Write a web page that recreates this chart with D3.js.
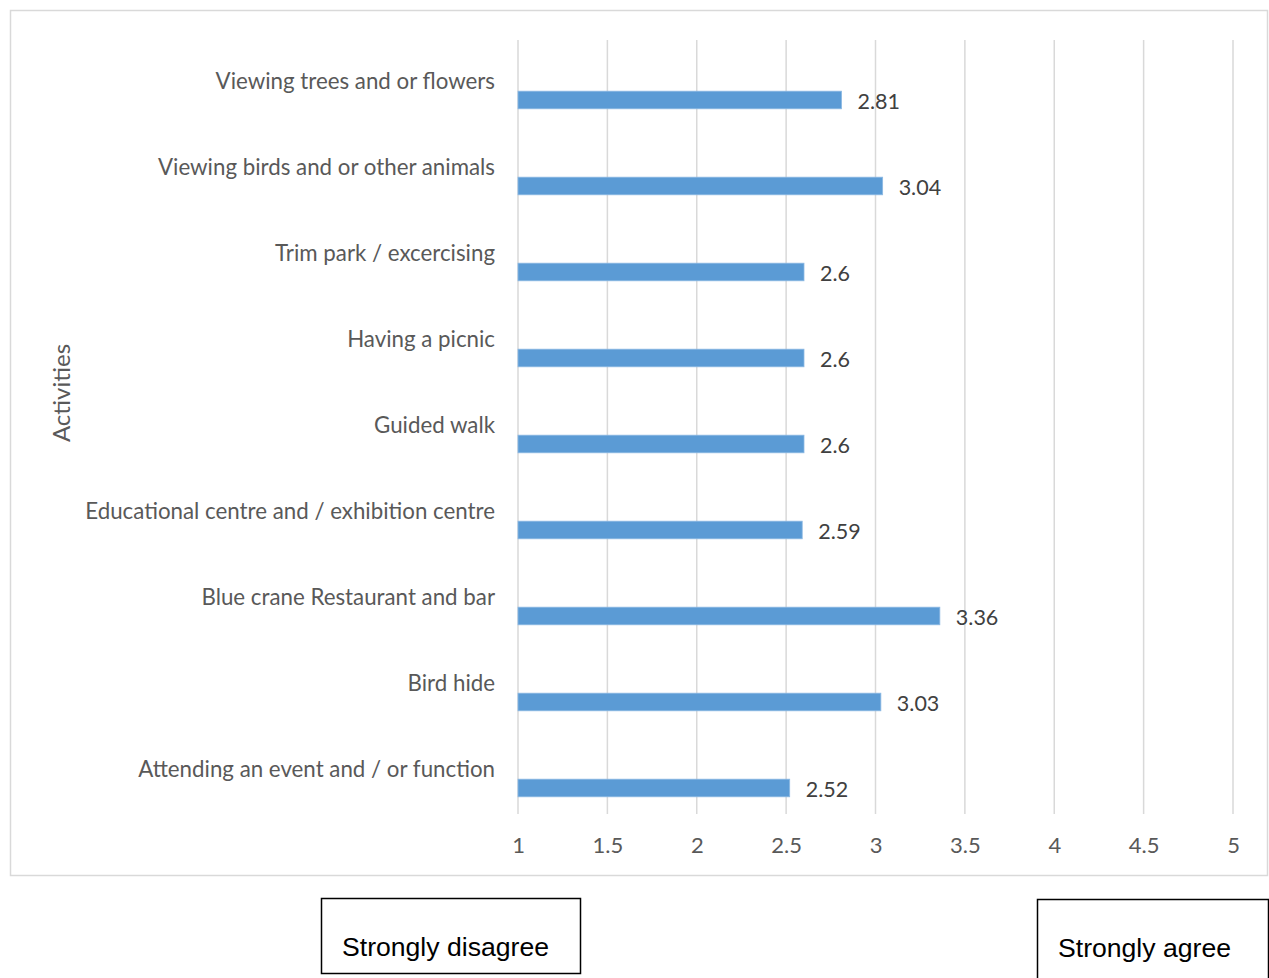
<!DOCTYPE html>
<html>
<head>
<meta charset="utf-8">
<script src="https://cdn.jsdelivr.net/npm/d3@7"></script>
<style>
  html, body { margin: 0; padding: 0; background: #fff; }
  svg { display: block; }
</style>
</head>
<body>
<svg id="chart" width="1269" height="978"></svg>
<script>
// Activities and their mean agreement score (1 = strongly disagree, 5 = strongly agree)
const categories = [
  "Viewing trees and or flowers",
  "Viewing birds and or other animals",
  "Trim park / excercising",
  "Having a picnic",
  "Guided walk",
  "Educational centre and / exhibition centre",
  "Blue crane Restaurant and bar",
  "Bird hide",
  "Attending an event and / or function"
];
const values = [2.81, 3.04, 2.6, 2.6, 2.6, 2.59, 3.36, 3.03, 2.52];
const xTicks = [1, 1.5, 2, 2.5, 3, 3.5, 4, 4.5, 5];
const axisTitle = "Activities";
const scaleEnds = ["Strongly disagree", "Strongly agree"];

const svg = d3.select("#chart");
const font = "Lato, 'Open Sans', sans-serif";

// Chart area frame
svg.append("rect")
  .attr("x", 10.5).attr("y", 10.5)
  .attr("width", 1257).attr("height", 865)
  .attr("fill", "#fff").attr("stroke", "#d9d9d9").attr("stroke-width", 1.5);

const x = d3.scaleLinear().domain([1, 5]).range([518, 1233]);
const y = d3.scaleBand().domain(categories).range([40, 814]);
const bw = y.bandwidth();

// Vertical gridlines
svg.append("g")
  .selectAll("line")
  .data(xTicks)
  .join("line")
  .attr("x1", d => x(d)).attr("x2", d => x(d))
  .attr("y1", 40).attr("y2", 814)
  .attr("stroke", "#d9d9d9").attr("stroke-width", 1.5);

// X axis tick labels
const xAxis = d3.axisBottom(x).tickValues(xTicks).tickSize(0).tickPadding(0)
  .tickFormat(d3.format("~g"));
const gx = svg.append("g").attr("transform", "translate(0,838)").call(xAxis);
gx.select(".domain").remove();
gx.selectAll("text")
  .attr("font-family", font).attr("font-size", 22).attr("fill", "#595959")
  .attr("dy", "0.35em").attr("y", 7);

// Category labels, right-aligned at the band centre
const yAxis = d3.axisLeft(y).tickSize(0).tickPadding(0);
const gy = svg.append("g").attr("transform", "translate(495,-1)").call(yAxis);
gy.select(".domain").remove();
gy.selectAll("text")
  .attr("font-family", font).attr("font-size", 22.3).attr("fill", "#595959")
  .attr("x", 0);

// Bars sit in the lower part of each band
const rows = categories.map((c, i) => ({ c, v: values[i] }));
svg.append("g")
  .selectAll("rect")
  .data(rows)
  .join("rect")
  .attr("x", x(1))
  .attr("y", d => y(d.c) + bw * 0.595)
  .attr("width", d => x(d.v) - x(1))
  .attr("height", bw * 0.205)
  .attr("fill", "#5b9bd5")
  .attr("stroke", "#8db9e3").attr("stroke-width", 0.8);

// Value labels
svg.append("g")
  .selectAll("text")
  .data(rows)
  .join("text")
  .attr("x", d => x(d.v) + 16)
  .attr("y", d => y(d.c) + bw * 0.595 + bw * 0.1025 + 1)
  .attr("dy", "0.35em")
  .attr("font-family", font).attr("font-size", 21.5).attr("fill", "#404040")
  .text(d => d.v);

// Axis title
svg.append("text")
  .attr("transform", "translate(62,393) rotate(-90)")
  .attr("text-anchor", "middle").attr("dy", "0.35em")
  .attr("font-family", font).attr("font-size", 24).attr("fill", "#595959")
  .text(axisTitle);

// Scale end annotations
const boxes = [
  { t: scaleEnds[0], x: 321, y: 898, w: 259, h: 75, tx: 342, ty: 947 },
  { t: scaleEnds[1], x: 1037, y: 899, w: 231, h: 85, tx: 1058, ty: 948 }
];
const gb = svg.append("g");
gb.selectAll("rect").data(boxes).join("rect")
  .attr("x", d => d.x + 0.5).attr("y", d => d.y + 0.5)
  .attr("width", d => d.w).attr("height", d => d.h)
  .attr("fill", "#fff").attr("stroke", "#000").attr("stroke-width", 1.5);
gb.selectAll("text").data(boxes).join("text")
  .attr("x", d => d.tx).attr("y", d => d.ty)
  .attr("dy", "0.35em")
  .attr("font-family", "'Liberation Sans', Arial, sans-serif")
  .attr("font-size", 26.6).attr("fill", "#000")
  .text(d => d.t);
</script>
</body>
</html>
